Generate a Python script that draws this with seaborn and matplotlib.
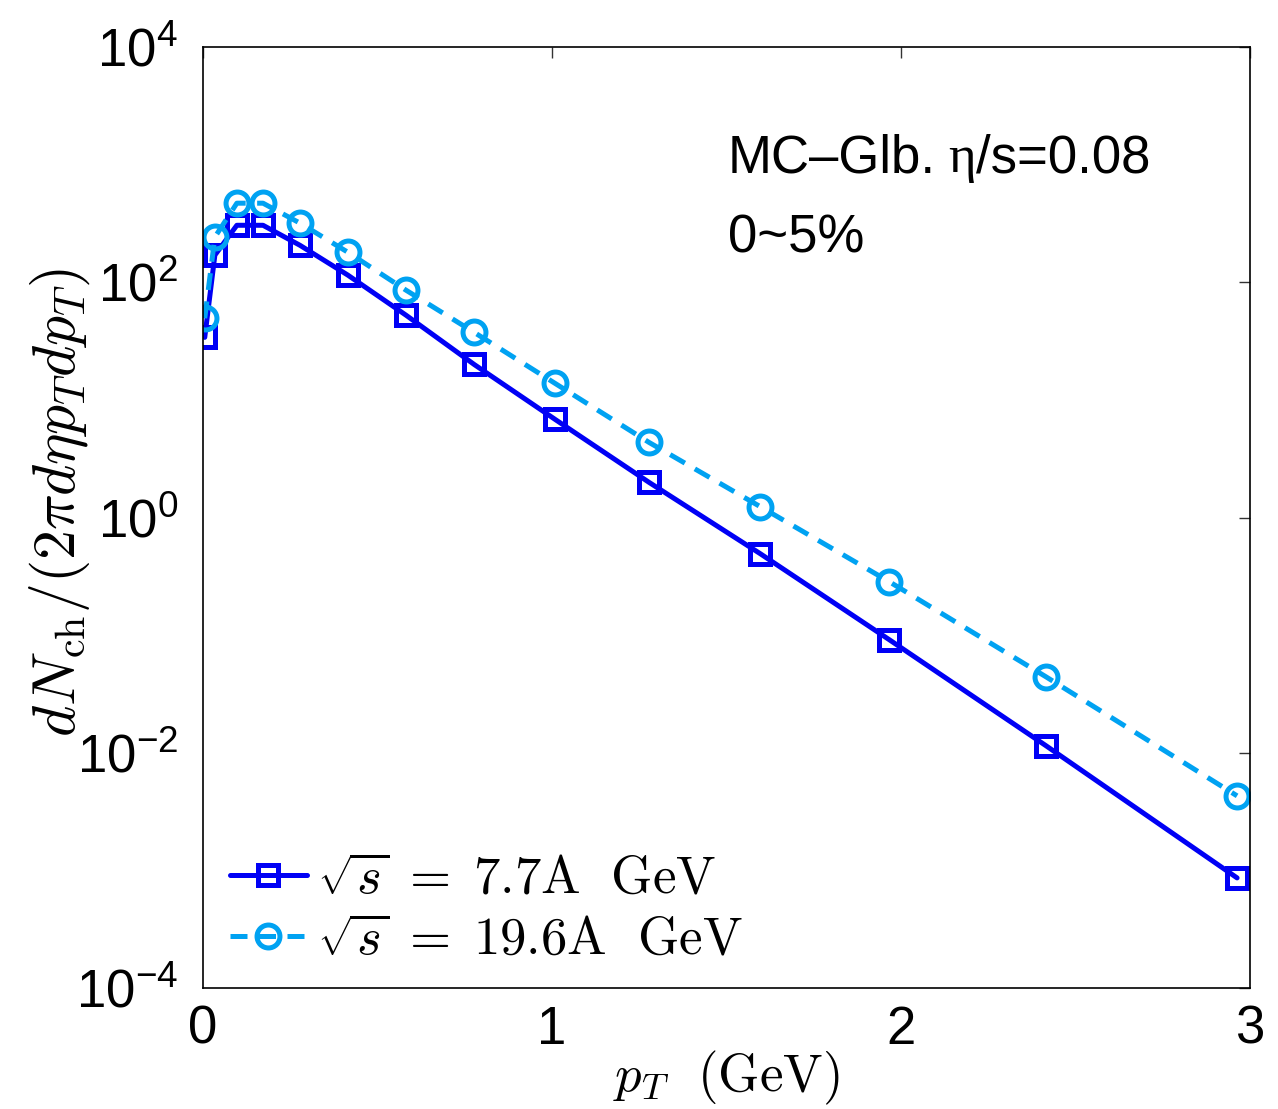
import numpy as np
import pandas as pd
import matplotlib
matplotlib.use("Agg")
import matplotlib.pyplot as plt
import seaborn as sns
from matplotlib.ticker import FixedLocator, FuncFormatter

# transverse momentum grid (GeV)
pt = [0.005, 0.034, 0.097, 0.172, 0.278, 0.415, 0.582, 0.777,
      1.009, 1.278, 1.596, 1.966, 2.415, 2.963]

# charged hadron spectra, 0-5% centrality
spec_77 = [34.0, 170, 305, 305, 206, 115, 52.4, 20.0,
           6.82, 1.99, 0.494, 0.0916, 0.0115, 0.000863]
spec_196 = [49.4, 242, 470, 470, 318, 180, 85.5, 37.5,
            13.8, 4.35, 1.24, 0.285, 0.0443, 0.0043]

labels = [r"$\sqrt{s}\;=\;7.7\mathrm{A\ \ GeV}$",
          r"$\sqrt{s}\;=\;19.6\mathrm{A\ \ GeV}$"]
x_ticks = [0, 1, 2, 3]
y_ticks = [1e-4, 1e-2, 1e0, 1e2, 1e4]

sns.set_theme(style="white")
plt.rcParams["font.family"] = ["Liberation Sans", "DejaVu Sans"]
plt.rcParams["text.color"] = "black"
plt.rcParams["axes.labelcolor"] = "black"
plt.rcParams["mathtext.fontset"] = "custom"
plt.rcParams["mathtext.rm"] = "Liberation Sans"
plt.rcParams["mathtext.it"] = "Liberation Sans:italic"
plt.rcParams["mathtext.bf"] = "Liberation Sans:bold"

df = pd.DataFrame({
    "pt": pt * 2,
    "y": spec_77 + spec_196,
    "run": [labels[0]] * len(pt) + [labels[1]] * len(pt),
})

fig = plt.figure(figsize=(12.78, 11.09), dpi=100)
ax = fig.add_axes([203 / 1278, 1 - 988 / 1109, (1250 - 203) / 1278, (988 - 47) / 1109])

blue = "#0000f5"
cyan = "#00a2f2"

sns.lineplot(data=df[df.run == labels[0]], x="pt", y="y", ax=ax, color=blue,
             linewidth=3.6, marker="s", markersize=14.0, markeredgewidth=3.6,
             markerfacecolor="none", markeredgecolor=blue, label=labels[0],
             sort=False)
sns.lineplot(data=df[df.run == labels[1]], x="pt", y="y", ax=ax, color=cyan,
             linewidth=3.6, marker="o", markersize=16.5, markeredgewidth=3.6,
             markerfacecolor="none", markeredgecolor=cyan, label=labels[1],
             sort=False)
ax.lines[1].set_dashes([3.4, 2.3])
ax.lines[1].set_dash_capstyle("butt")

ax.set_yscale("log")
ax.set_xlim(0, 3)
ax.set_ylim(1e-4, 1e4)
ax.xaxis.set_major_locator(FixedLocator(x_ticks))
ax.yaxis.set_major_locator(FixedLocator(y_ticks))
ax.yaxis.set_minor_locator(FixedLocator([]))
ax.xaxis.set_major_formatter(FuncFormatter(lambda v, p: f"{v:g}"))
ax.yaxis.set_major_formatter(
    FuncFormatter(lambda v, p: r"$\mathrm{10^{%d}}$" % int(round(np.log10(v)))))

ax.tick_params(axis="both", which="major", direction="in", length=8, width=1.0,
               colors="#333333", labelcolor="black", labelsize=38,
               top=True, right=True)
ax.tick_params(axis="x", pad=12)
ax.tick_params(axis="y", pad=18)
for s in ax.spines.values():
    s.set_color("black")
    s.set_linewidth(1.2)

ax.set_xlabel(r"$p_T\ \ (\mathrm{GeV})$", fontsize=38, math_fontfamily="cm",
              labelpad=-4)
ax.set_ylabel(r"$dN_{\mathrm{ch}}/(2\pi d\eta p_T dp_T)$", fontsize=43,
              math_fontfamily="cm")
ax.yaxis.set_label_coords(-0.106, 0.516)

# model annotation: sans text with a serif eta
t1 = ax.text(0.501, 0.867, "MC\u2013Glb.", transform=ax.transAxes,
             fontsize=38, ha="left", va="baseline")
t2 = ax.annotate("\u03b7", xy=(1, 0), xycoords=t1, xytext=(9, 0),
                 textcoords="offset points", fontsize=38,
                 family=["Liberation Serif"], ha="left", va="bottom")
ax.annotate("/s=0.08", xy=(1, 0), xycoords=t2, xytext=(0, 0),
            textcoords="offset points", fontsize=38, ha="left", va="bottom")
ax.text(0.501, 0.782, "0~5%", transform=ax.transAxes, fontsize=38,
        ha="left", va="baseline")

leg = ax.legend(loc="lower left", bbox_to_anchor=(0.026, 0.024), frameon=False,
                handlelength=1.45, handletextpad=0.2, borderaxespad=0.0,
                borderpad=0.0, labelspacing=0.2,
                prop={"size": 38, "math_fontfamily": "cm"})
for h in leg.get_lines():
    h.set_linewidth(3.6)

fig.savefig("out.png", dpi=100)
